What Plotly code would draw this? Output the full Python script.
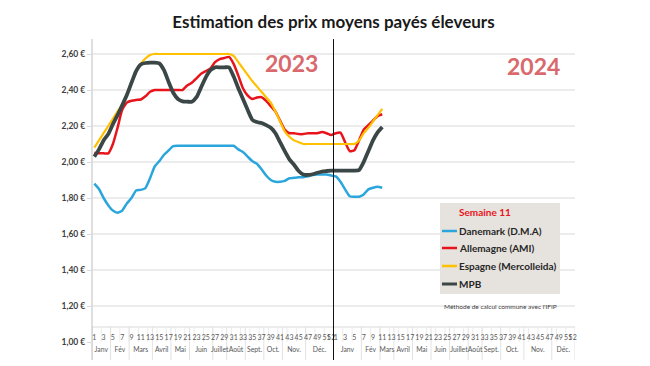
import plotly.graph_objects as go

# ---------------- data ----------------
weeks_2023 = list(range(1, 53))
weeks_2024 = list(range(1, 12))

danemark_2023 = [1.88, 1.85, 1.80, 1.76, 1.73, 1.718, 1.73, 1.77, 1.80, 1.842,
                 1.845, 1.855, 1.91, 1.975, 2.005, 2.04, 2.065, 2.088,
                 2.09, 2.09, 2.09, 2.09, 2.09, 2.09, 2.09, 2.09, 2.09, 2.09, 2.09, 2.09, 2.09,
                 2.07, 2.055, 2.03, 2.005, 1.99, 1.96, 1.925, 1.90, 1.89, 1.89, 1.895,
                 1.91, 1.912, 1.915, 1.915, 1.92, 1.928, 1.93, 1.93, 1.93, 1.925]
danemark_2024 = [1.92, 1.89, 1.848, 1.81, 1.807, 1.807, 1.82, 1.848, 1.857, 1.863, 1.857]

allemagne_2023 = [2.05, 2.048, 2.048, 2.048, 2.10, 2.19, 2.29, 2.33, 2.34, 2.345,
                  2.347, 2.365, 2.39, 2.40, 2.40, 2.40, 2.40, 2.40, 2.40, 2.40,
                  2.425, 2.44, 2.465, 2.49, 2.505, 2.52, 2.555, 2.572, 2.578, 2.584,
                  2.545, 2.48, 2.41, 2.37, 2.35, 2.358, 2.36, 2.34, 2.31, 2.28,
                  2.23, 2.18, 2.16, 2.16, 2.155, 2.155, 2.16, 2.16, 2.16, 2.166,
                  2.16, 2.15]
allemagne_2024 = [2.16, 2.163, 2.11, 2.06, 2.065, 2.12, 2.18, 2.205, 2.23, 2.255, 2.265]

espagne_2023 = [2.08, 2.12, 2.16, 2.20, 2.24, 2.28, 2.32, 2.38, 2.44, 2.50,
                2.545, 2.575, 2.595,
                2.60, 2.60, 2.60, 2.60, 2.60, 2.60, 2.60, 2.60, 2.60, 2.60, 2.60, 2.60,
                2.60, 2.60, 2.60, 2.60, 2.60,
                2.59, 2.555, 2.52, 2.485, 2.45, 2.42, 2.39, 2.36, 2.33, 2.28,
                2.225, 2.17, 2.14, 2.12, 2.11, 2.10,
                2.10, 2.10, 2.10, 2.10, 2.10, 2.10]
espagne_2024 = [2.10, 2.10, 2.10, 2.10, 2.10, 2.12, 2.16, 2.19, 2.225, 2.26, 2.295]

mpb_2023 = [2.03, 2.07, 2.12, 2.155, 2.21, 2.26, 2.315, 2.372, 2.44, 2.505,
            2.542, 2.55, 2.552, 2.552, 2.548, 2.51, 2.445, 2.385, 2.35, 2.337,
            2.335, 2.335, 2.36, 2.415, 2.47, 2.51, 2.526, 2.526, 2.526, 2.526,
            2.475, 2.41, 2.35, 2.29, 2.235, 2.222, 2.217, 2.205, 2.19, 2.16,
            2.11, 2.06, 2.015, 1.985, 1.95, 1.93, 1.928, 1.932, 1.94, 1.947,
            1.95, 1.952]
mpb_2024 = [1.952, 1.952, 1.952, 1.952, 1.952, 1.955, 2.00, 2.06, 2.12, 2.165, 2.195]

series_names = ["Danemark (D.M.A)", "Allemagne (AMI)", "Espagne (Mercolleida)", "MPB"]
series_colors = ["#2ba6dc", "#e8141b", "#ffc000", "#3b4747"]
series_widths = [2.5, 2.5, 2.2, 3.8]
series_2023 = [danemark_2023, allemagne_2023, espagne_2023, mpb_2023]
series_2024 = [danemark_2024, allemagne_2024, espagne_2024, mpb_2024]

months = ["Janv", "Fév", "Mars", "Avril", "Mai", "Juin", "Juillet", "Août",
          "Sept.", "Oct.", "Nov.", "Déc."]
month_start_2023 = [1, 5, 9, 14, 18, 22, 27, 30, 34, 38, 42, 47]
month_start_2024 = [1, 7, 11, 14, 18, 22, 26, 30, 33, 37, 42, 48]

y_ticks = [1.0, 1.2, 1.4, 1.6, 1.8, 2.0, 2.2, 2.4, 2.6]
y_ticktext = ["1,00 €", "1,20 €", "1,40 €", "1,60 €", "1,80 €", "2,00 €", "2,20 €", "2,40 €", "2,60 €"]

title_text = "Estimation des prix moyens payés éleveurs"
legend_title = "Semaine 11"
note_text = "Méthode de calcul commune avec l'IFIP"

# ---------------- figure ----------------
N = 52  # weeks per year on the axis
x_all = weeks_2023 + [N + w for w in weeks_2024]

fig = go.Figure()
for name, col, wd, s23, s24 in zip(series_names, series_colors, series_widths, series_2023, series_2024):
    fig.add_trace(go.Scatter(
        x=x_all, y=s23 + s24, mode="lines", name=name,
        line=dict(color=col, width=wd, shape="spline", smoothing=0.5),
        hoverinfo="skip"))

# week tick labels (odd weeks + 52 for each year)
wk_vals, wk_text = [], []
for off in (0, N):
    for w in list(range(1, 52, 2)) + [52]:
        wk_vals.append(off + w)
        wk_text.append(str(w))

# month labels
m_vals, m_text, m_bounds = [], [], []
for off, starts in ((0, month_start_2023), (N, month_start_2024)):
    ends = starts[1:] + [N + 1]
    for name, s, e in zip(months, starts, ends):
        m_vals.append(off + (s + e - 1) / 2)
        m_text.append(name)
        m_bounds.append(off + s - 0.5)
m_bounds.append(2 * N + 0.5)

# invisible trace so the month axis gets drawn
fig.add_trace(go.Scatter(x=m_vals, y=[1.5] * len(m_vals), xaxis="x2", yaxis="y",
                         mode="markers", marker=dict(opacity=0, size=1),
                         showlegend=False, hoverinfo="skip"))

# page is rendered with an 8px body margin: figure is 642x358 placed at (8, 8)
plot_h = 306.0
band_line = 15 / plot_h     # paper y of category band top line
wk_axis = 10 / plot_h       # week labels axis position
band_bot = -18 / plot_h     # bottom of category band

xr = [0.5, 2 * N + 0.5]
fig.update_layout(
    width=642, height=358,
    margin=dict(l=84, r=75, t=28, b=24, autoexpand=False),
    paper_bgcolor="white", plot_bgcolor="white",
    showlegend=False,
    font=dict(family="Lato, 'Open Sans', sans-serif", color="#404040"),
    title=dict(text=title_text, x=0.5, xref="paper", xanchor="center",
               y=1 - 14 / 358, yref="container", yanchor="middle",
               font=dict(size=17, color="#1a1a1a", weight="bold")),
    xaxis=dict(range=xr, tickmode="array", tickvals=wk_vals, ticktext=wk_text,
               anchor="free", position=wk_axis, showgrid=False, zeroline=False,
               showline=False, ticks="", tickangle=0, automargin=False,
               tickfont=dict(size=7, color="#595959")),
    xaxis2=dict(range=xr, overlaying="x", anchor="free", position=0,
                tickmode="array", tickvals=m_vals, ticktext=m_text,
                showgrid=False, zeroline=False, showline=False, ticks="",
                tickangle=0, automargin=False, ticklabelstandoff=2,
                tickfont=dict(size=6.8, color="#595959")),
    yaxis=dict(range=[1.0, 2.7], tickmode="array", tickvals=y_ticks, ticktext=y_ticktext,
               showgrid=False, zeroline=False, showline=False, automargin=False,
               ticks="outside", ticklen=4, tickcolor="#d9d9d9",
               tickfont=dict(size=8.5, color="#404040", weight="bold")),
)

shapes = []
# horizontal gridlines
for v in y_ticks[1:]:
    shapes.append(dict(type="line", xref="paper", x0=0, x1=1, yref="y", y0=v, y1=v,
                       line=dict(color="#d9d9d9", width=1), layer="below"))
# category band top line
shapes.append(dict(type="line", xref="paper", x0=0, x1=1, yref="paper", y0=band_line, y1=band_line,
                   line=dict(color="#d9d9d9", width=1), layer="below"))
# week separators in band (every 2 weeks)
for off in (0, N):
    for w in range(1, N + 1, 2):
        shapes.append(dict(type="line", xref="x", x0=off + w - 0.5, x1=off + w - 0.5,
                           yref="paper", y0=band_line, y1=0.0,
                           line=dict(color="#ececec", width=1), layer="below"))
# month separators
for b in m_bounds:
    shapes.append(dict(type="line", xref="x", x0=b, x1=b, yref="paper", y0=band_line, y1=band_bot,
                       line=dict(color="#e2e2e2", width=1), layer="below"))
# y axis line
shapes.append(dict(type="line", xref="paper", x0=0, x1=0, yref="paper", y0=band_bot, y1=0.99,
                   line=dict(color="#bfbfbf", width=1)))
# year divider
shapes.append(dict(type="line", xref="x", x0=N + 0.5, x1=N + 0.5, yref="paper", y0=band_bot, y1=0.99,
                   line=dict(color="#111111", width=1)))

# legend box (positions given in page pixels, converted to paper fractions)
def px_x(px):
    return (px - 92) / 483.0

def px_y(py):
    return (342 - py) / plot_h

shapes.append(dict(type="rect", xref="paper", yref="paper",
                   x0=px_x(440), x1=px_x(560), y0=px_y(294), y1=px_y(203),
                   fillcolor="#e6e2dd", line=dict(width=0), layer="above"))
row_y = [231, 248, 266, 284]
annotations = []
for name, col, ry in zip(series_names, series_colors, row_y):
    shapes.append(dict(type="line", xref="paper", yref="paper",
                       x0=px_x(442), x1=px_x(457), y0=px_y(ry), y1=px_y(ry),
                       line=dict(color=col, width=2.5 if name != "MPB" else 3)))
    annotations.append(dict(text=name, xref="paper", yref="paper", x=px_x(457), y=px_y(ry),
                            xanchor="left", yanchor="middle", showarrow=False,
                            font=dict(size=10, color="#262626", weight="bold")))
annotations.append(dict(text=legend_title, xref="paper", yref="paper", x=px_x(457), y=px_y(212),
                        xanchor="left", yanchor="middle", showarrow=False,
                        font=dict(size=10, color="#e8141b", weight="bold")))
annotations.append(dict(text=note_text, xref="paper", yref="paper", x=px_x(500), y=px_y(306),
                        xanchor="center", yanchor="middle", showarrow=False,
                        font=dict(size=6.5, color="#404040")))
# year labels
annotations.append(dict(text="2023", xref="paper", yref="paper", x=px_x(291), y=px_y(63),
                        xanchor="center", yanchor="middle", showarrow=False,
                        font=dict(size=23, color="#d9696d", weight="bold")))
annotations.append(dict(text="2024", xref="paper", yref="paper", x=px_x(533), y=px_y(66),
                        xanchor="center", yanchor="middle", showarrow=False,
                        font=dict(size=23, color="#d9696d", weight="bold")))

fig.update_layout(shapes=shapes, annotations=annotations)
fig.write_html("out.html")
